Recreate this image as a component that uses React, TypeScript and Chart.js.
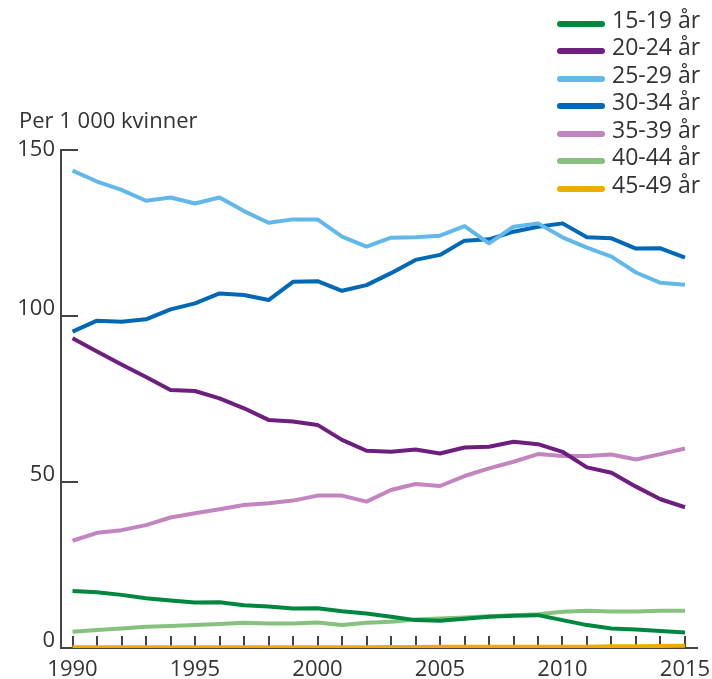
import React, { useEffect, useRef } from "react";
import { Chart, registerables } from "chart.js";

Chart.register(...registerables);

const years = [
  1990, 1991, 1992, 1993, 1994, 1995, 1996, 1997, 1998, 1999, 2000, 2001, 2002,
  2003, 2004, 2005, 2006, 2007, 2008, 2009, 2010, 2011, 2012, 2013, 2014, 2015,
];
const labelYears = [1990, 1995, 2000, 2005, 2010, 2015];
const yTicks = [0, 50, 100, 150];

const age1519 = [17.2, 16.8, 16, 15, 14.3, 13.7, 13.8, 12.9, 12.5, 11.9, 12, 11.1, 10.4, 9.4, 8.4, 8.2, 8.8, 9.4, 9.7, 9.9, 8.4, 6.9, 5.9, 5.6, 5.1, 4.7];
const age2024 = [93.3, 89.3, 85.4, 81.6, 77.7, 77.4, 75.2, 72.2, 68.7, 68.2, 67.2, 62.7, 59.4, 59.1, 59.8, 58.6, 60.4, 60.6, 62.1, 61.4, 59.1, 54.4, 52.8, 48.6, 44.8, 42.4];
const age2529 = [143.8, 140.5, 138, 134.7, 135.7, 133.9, 135.7, 131.6, 128.1, 129.1, 129.1, 123.9, 120.9, 123.6, 123.7, 124.2, 127.1, 121.9, 126.9, 127.9, 123.7, 120.6, 117.9, 113.1, 110, 109.4];
const age3034 = [95.3, 98.6, 98.3, 99, 102, 103.8, 106.8, 106.3, 104.8, 110.3, 110.5, 107.6, 109.3, 112.9, 116.9, 118.4, 122.7, 123.1, 125.4, 126.9, 127.9, 123.7, 123.4, 120.3, 120.4, 117.6];
const age3539 = [32.3, 34.7, 35.5, 37, 39.3, 40.6, 41.8, 43.1, 43.6, 44.4, 45.9, 45.9, 44.1, 47.6, 49.4, 48.8, 51.8, 54.1, 56.1, 58.4, 57.8, 57.8, 58.3, 56.8, 58.4, 60.1];
const age4044 = [4.9, 5.4, 5.9, 6.4, 6.6, 6.9, 7.2, 7.6, 7.4, 7.4, 7.7, 6.9, 7.6, 7.9, 8.6, 8.9, 9.2, 9.6, 9.9, 10.2, 10.9, 11.2, 11, 11, 11.2, 11.2];
const age4549 = [0.2, 0.2, 0.2, 0.2, 0.2, 0.2, 0.2, 0.2, 0.2, 0.2, 0.2, 0.2, 0.2, 0.3, 0.3, 0.4, 0.4, 0.4, 0.4, 0.4, 0.4, 0.4, 0.5, 0.5, 0.6, 0.7];

const seriesNames = ["15-19 år", "20-24 år", "25-29 år", "30-34 år", "35-39 år", "40-44 år", "45-49 år"];
const seriesValues = [age1519, age2024, age2529, age3034, age3539, age4044, age4549];
const seriesColors = ["#00873f", "#6d1f80", "#62b9e9", "#0068b4", "#c285bf", "#86c27d", "#f2a900"];

const yTitle = "Per 1 000 kvinner";

const FONT = "'Open Sans', 'Noto Sans', sans-serif";
const TEXT = "#333333";
const AXIS = "#444444";
const TOP_TICK = 150;

const innerTicks = {
  id: "innerTicks",
  beforeDatasetsDraw(chart: any) {
    const { ctx } = chart;
    const x = chart.scales.x;
    const y = chart.scales.y;
    ctx.save();
    ctx.strokeStyle = AXIS;
    ctx.lineWidth = 2;
    ctx.beginPath();
    years.forEach((yr) => {
      const px = Math.round(x.getPixelForValue(yr));
      ctx.moveTo(px, y.bottom);
      ctx.lineTo(px, y.bottom - 12);
    });
    yTicks.forEach((v) => {
      const py = Math.round(y.getPixelForValue(v));
      ctx.moveTo(x.left, py);
      ctx.lineTo(x.left + 17, py);
    });
    ctx.stroke();
    ctx.restore();
  },
};

export default function App() {
  const ref = useRef<HTMLCanvasElement | null>(null);

  useEffect(() => {
    if (!ref.current) return;
    const chart = new Chart(ref.current, {
      type: "line",
      data: {
        datasets: seriesValues.map((vals, i) => ({
          label: seriesNames[i],
          data: years.map((yr, j) => ({ x: yr, y: vals[j] })),
          borderColor: seriesColors[i],
          backgroundColor: seriesColors[i],
          borderWidth: 4,
          pointRadius: 0,
          tension: 0,
          borderJoinStyle: "round" as const,
          fill: false,
        })),
      },
      options: {
        responsive: false,
        animation: false,
        devicePixelRatio: 1,
        layout: { padding: { top: 150, right: 15, left: 0, bottom: 0 } },
        plugins: { legend: { display: false }, tooltip: { enabled: false } },
        scales: {
          x: {
            type: "linear",
            min: 1989.53,
            max: 2015.49,
            afterBuildTicks: (s: any) => {
              s.ticks = labelYears.map((v) => ({ value: v }));
            },
            afterFit: (s: any) => {
              s.height = 31;
              s.paddingLeft = 0;
              s.paddingRight = 0;
            },
            grid: { display: false, drawTicks: false },
            border: { display: true, color: AXIS, width: 2 },
            ticks: {
              autoSkip: false,
              maxRotation: 0,
              padding: 9,
              color: TEXT,
              font: { family: FONT, size: 22 },
              callback: (v: any) => String(v),
            },
          },
          y: {
            min: 0,
            max: 150,
            afterBuildTicks: (s: any) => {
              s.ticks = yTicks.map((v) => ({ value: v }));
            },
            afterFit: (s: any) => {
              s.width = 61;
              s.paddingTop = 0;
              s.paddingBottom = 0;
            },
            grid: { display: false, drawTicks: false },
            border: { display: true, color: AXIS, width: 2 },
            ticks: {
              padding: 6,
              labelOffset: -7,
              color: TEXT,
              font: (c: any) =>
                c.tick && c.tick.value === TOP_TICK
                  ? { family: FONT, size: 22, lineHeight: 14 / 22 }
                  : { family: FONT, size: 22 },
              callback: (v: any) => (v === TOP_TICK ? ["", String(v)] : String(v)),
            },
          },
        },
      },
      plugins: [innerTicks],
    });
    return () => chart.destroy();
  }, []);

  return (
    <div style={{ position: "absolute", left: 0, top: 0, width: 712, height: 679, background: "#fff" }}>
      <canvas ref={ref} width={712} height={679} style={{ position: "absolute", left: 0, top: 0 }} />
      <div
        style={{
          position: "absolute",
          left: 19,
          top: 107.5,
          fontFamily: FONT,
          fontSize: 22,
          lineHeight: 1,
          color: TEXT,
          whiteSpace: "nowrap",
        }}
      >
        {yTitle}
      </div>
      {seriesNames.map((name, i) => {
        const baseline = 28 + 27.5 * i;
        return (
          <React.Fragment key={name}>
            <div
              style={{
                position: "absolute",
                left: 557,
                top: baseline - 4.5 - 3,
                width: 48,
                height: 6,
                borderRadius: 3,
                background: seriesColors[i],
              }}
            />
            <div
              style={{
                position: "absolute",
                left: 612,
                top: baseline - 20.5,
                fontFamily: FONT,
                fontSize: 23,
                lineHeight: 1,
                color: TEXT,
                whiteSpace: "nowrap",
              }}
            >
              {name}
            </div>
          </React.Fragment>
        );
      })}
    </div>
  );
}
